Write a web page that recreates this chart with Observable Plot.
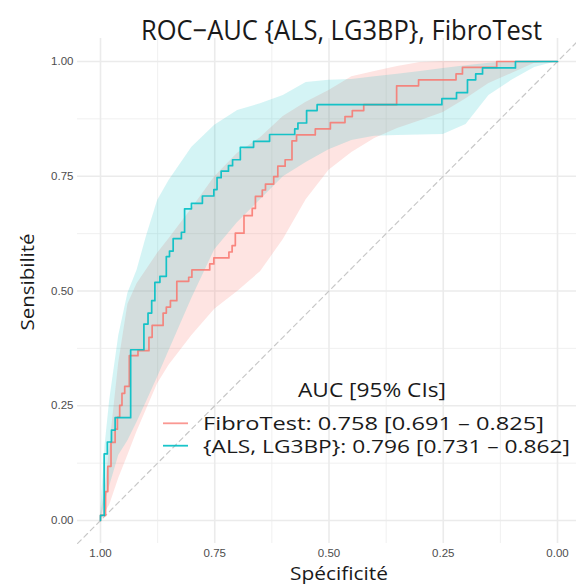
<!DOCTYPE html>
<html>
<head>
<meta charset="utf-8">
<script src="https://cdn.jsdelivr.net/npm/d3@7"></script>
<script src="https://cdn.jsdelivr.net/npm/@observablehq/plot@0.6"></script>
<style>
  html, body { margin: 0; padding: 0; background: #fff; }
  #wrap { position: relative; width: 576px; height: 585px; overflow: hidden; }
  #wrap > svg { position: absolute; left: 0; top: 0; }
</style>
</head>
<body>
<div id="wrap"></div>
<script>
// ---- Data ----
const titleText = "ROC\u2212AUC {ALS, LG3BP}, FibroTest";
const xTitle = "Spécificité";
const yTitle = "Sensibilité";
const legendTitle = "AUC [95% CIs]";
const seriesNames = ["FibroTest", "{ALS, LG3BP}"];
const seriesLabels = ["FibroTest: 0.758 [0.691 \u2013 0.825]", "{ALS, LG3BP}: 0.796 [0.731 \u2013 0.862]"];
const seriesColors = ["#F8766D", "#00BFC4"];

const majorTicks = [0, 0.25, 0.5, 0.75, 1];
const minorTicks = [0.125, 0.375, 0.625, 0.875];
const diagSpec = [1.05, -0.05];

// FibroTest ROC curve
const redSpec = [1.000,1.000,0.989,0.984,0.977,0.968,0.963,0.958,0.953,0.947,0.937,0.918,0.894,0.887,0.863,0.856,0.847,0.833,0.807,0.800,0.761,0.752,0.719,0.712,0.705,0.686,0.668,0.661,0.646,0.639,0.621,0.612,0.596,0.581,0.571,0.530,0.497,0.465,0.449,0.424,0.352,0.304,0.222,0.208,0.133,0.000];
const redSens = [0.000,0.011,0.063,0.118,0.170,0.199,0.225,0.251,0.277,0.292,0.359,0.370,0.399,0.425,0.452,0.465,0.479,0.521,0.530,0.546,0.559,0.572,0.585,0.599,0.626,0.664,0.680,0.706,0.720,0.733,0.749,0.772,0.786,0.827,0.840,0.853,0.867,0.880,0.893,0.906,0.947,0.960,0.973,0.987,1.000,1.000];

// {ALS, LG3BP} ROC curve
const tealSpec = [1.000,1.000,0.992,0.985,0.976,0.968,0.934,0.905,0.896,0.888,0.881,0.870,0.856,0.849,0.841,0.823,0.816,0.801,0.777,0.752,0.745,0.736,0.720,0.711,0.694,0.665,0.630,0.575,0.568,0.549,0.526,0.253,0.221,0.197,0.179,0.164,0.092,0.000];
const tealSens = [0.000,0.011,0.145,0.171,0.197,0.224,0.372,0.428,0.452,0.479,0.519,0.532,0.575,0.587,0.614,0.628,0.679,0.691,0.707,0.721,0.747,0.761,0.773,0.786,0.813,0.826,0.841,0.853,0.866,0.893,0.906,0.919,0.932,0.960,0.973,0.986,1.000,1.000];

// 95% CI of sensitivity on a specificity grid
const ciSpec = [1.00,0.99,0.98,0.96,0.94,0.92,0.90,0.875,0.85,0.80,0.75,0.70,0.65,0.60,0.55,0.50,0.45,0.40,0.35,0.30,0.25,0.20,0.15,0.10,0.05,0.00];
const redLo  = [0.000,0.017,0.033,0.092,0.142,0.194,0.240,0.298,0.338,0.403,0.460,0.499,0.542,0.612,0.699,0.763,0.802,0.832,0.854,0.871,0.889,0.919,0.952,0.974,0.996,1.000];
const redHi  = [0.011,0.065,0.159,0.344,0.471,0.516,0.545,0.582,0.614,0.680,0.749,0.800,0.834,0.880,0.911,0.937,0.967,0.978,0.989,0.998,1.000,1.000,1.000,1.000,1.000,1.000];
const tealLo = [0.000,0.039,0.074,0.142,0.174,0.214,0.257,0.312,0.370,0.484,0.590,0.649,0.699,0.749,0.780,0.808,0.828,0.837,0.839,0.840,0.841,0.863,0.926,0.959,0.987,1.000];
const tealHi = [0.011,0.163,0.261,0.403,0.495,0.545,0.617,0.697,0.741,0.813,0.861,0.893,0.908,0.926,0.954,0.959,0.961,0.967,0.972,0.978,0.985,0.991,0.996,0.999,1.000,1.000];

// ---- Build tables ----
const toCurve = (sp, se) => sp.map((s, i) => ({spec: s, sens: se[i]}));
const toBand = (lo, hi) => ciSpec.map((s, i) => ({spec: s, lo: lo[i], hi: hi[i]}));
const redCurve = toCurve(redSpec, redSens);
const tealCurve = toCurve(tealSpec, tealSens);
const redBand = toBand(redLo, redHi);
const tealBand = toBand(tealLo, tealHi);
const diag = diagSpec.map(s => ({spec: s, sens: 1 - s}));

const W = 576, H = 585;
const plot = Plot.plot({
  width: W, height: H,
  marginTop: 38, marginBottom: 42, marginLeft: 77, marginRight: -4,
  x: {domain: [1.05, -0.05], range: [77.15, 579.85], ticks: majorTicks, tickSize: 0, tickPadding: 5, tickFormat: d3.format(".2f"), label: null},
  y: {domain: [-0.05, 1.05], range: [542.95, 38.05], ticks: majorTicks, tickSize: 0, tickPadding: 4, tickFormat: d3.format(".2f"), label: null},
  style: {background: "white", color: "#4d4d4d", fontSize: "11.5px", fontFamily: "'Liberation Sans', Arial, sans-serif"},
  marks: [
    Plot.gridX(minorTicks, {stroke: "#eeeeee", strokeOpacity: 1, strokeWidth: 0.9}),
    Plot.gridY(minorTicks, {stroke: "#eeeeee", strokeOpacity: 1, strokeWidth: 0.9}),
    Plot.gridX(majorTicks, {stroke: "#ebebeb", strokeOpacity: 1, strokeWidth: 1.6}),
    Plot.gridY(majorTicks, {stroke: "#ebebeb", strokeOpacity: 1, strokeWidth: 1.6}),
    Plot.areaY(redBand, {x: "spec", y1: "lo", y2: "hi", fill: seriesColors[0], fillOpacity: 0.2}),
    Plot.areaY(tealBand, {x: "spec", y1: "lo", y2: "hi", fill: seriesColors[1], fillOpacity: 0.17}),
    Plot.line(diag, {x: "spec", y: "sens", stroke: "#c8c8c8", strokeWidth: 1.2, strokeDasharray: "5,4"}),
    Plot.line(redCurve, {x: "spec", y: "sens", stroke: seriesColors[0], strokeOpacity: 0.85, strokeWidth: 1.7, curve: "step-after"}),
    Plot.line(tealCurve, {x: "spec", y: "sens", stroke: seriesColors[1], strokeOpacity: 0.9, strokeWidth: 1.7, curve: "step-after"})
  ]
});
const wrap = document.getElementById("wrap");
wrap.appendChild(plot);

// ---- Overlay: titles and legend (real text) ----
const ns = "http://www.w3.org/2000/svg";
const ov = document.createElementNS(ns, "svg");
ov.setAttribute("width", W); ov.setAttribute("height", H);
ov.style.pointerEvents = "none";
wrap.appendChild(ov);
const font = "'Open Sans', 'Noto Sans', sans-serif";
function addText(str, x, y, size, len, opts = {}) {
  const t = document.createElementNS(ns, "text");
  t.textContent = str;
  t.setAttribute("x", x); t.setAttribute("y", y);
  t.setAttribute("font-size", size);
  t.setAttribute("font-family", font);
  t.setAttribute("fill", opts.fill || "#1a1a1a");
  if (opts.anchor) t.setAttribute("text-anchor", opts.anchor);
  if (opts.transform) t.setAttribute("transform", opts.transform);
  if (len) { t.setAttribute("textLength", len); t.setAttribute("lengthAdjust", "spacingAndGlyphs"); }
  ov.appendChild(t);
  return t;
}
addText(titleText, 141, 40, 27, 401);
addText(xTitle, 339, 580, 19, 98, {anchor: "middle"});
addText(yTitle, 0, 0, 19, 97, {anchor: "middle", transform: "translate(34,282) rotate(-90)"});
addText(legendTitle, 298, 397, 20, 148);
const keyY = [423.3, 445.7];
const labelLen = [341, 367];
seriesLabels.forEach((lab, i) => {
  const l = document.createElementNS(ns, "line");
  l.setAttribute("x1", 163); l.setAttribute("x2", 188);
  l.setAttribute("y1", keyY[i]); l.setAttribute("y2", keyY[i]);
  l.setAttribute("stroke", seriesColors[i]);
  l.setAttribute("stroke-opacity", i === 0 ? 0.75 : 0.9);
  l.setAttribute("stroke-width", 1.8);
  ov.appendChild(l);
  addText(lab, 203, keyY[i] + 7, 18, labelLen[i]);
});
</script>
</body>
</html>
